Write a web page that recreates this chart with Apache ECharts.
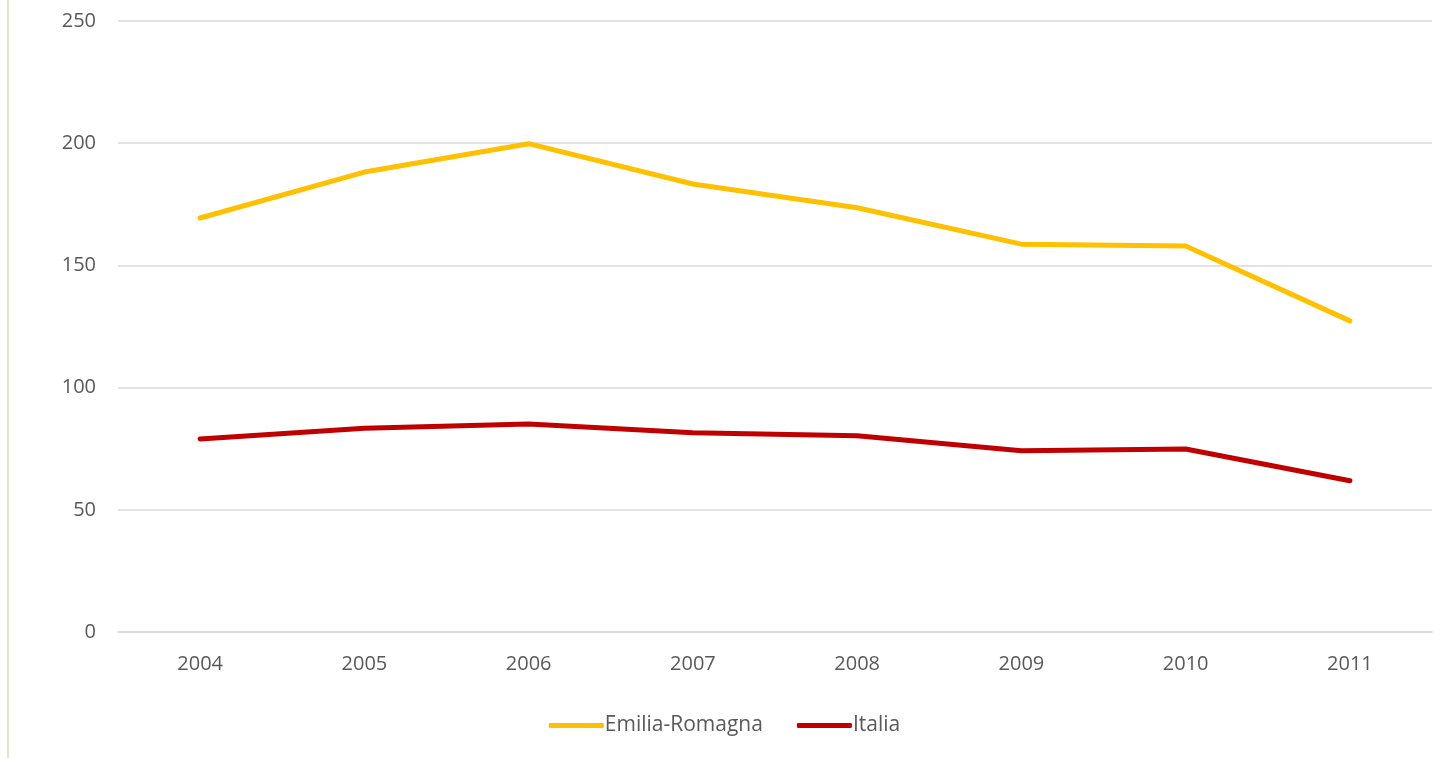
<!DOCTYPE html>
<html>
<head>
  <meta charset="utf-8" />
  <style>
    html, body { margin: 0; padding: 0; background: #fff; }
    #main { width: 1449px; height: 758px; }
    #edge { position: absolute; left: 7px; top: 0; width: 2px; height: 758px; background: #e3dfcb; }
  </style>
</head>
<body>
  <div id="edge"></div>
  <div id="main"></div>
  <script src="https://cdn.jsdelivr.net/npm/echarts@6/dist/echarts.min.js"></script>
  <script>
    // anni
    var years = ["2004", "2005", "2006", "2007", "2008", "2009", "2010", "2011"];
    var emiliaRomagna = [169.4, 188.2, 199.8, 183.3, 173.6, 158.7, 157.9, 127.3];
    var italia = [79.0, 83.4, 85.1, 81.5, 80.3, 74.2, 74.9, 61.9];

    var chart = echarts.init(document.getElementById("main"));
    var labelFont = { color: "#595959", fontSize: 20, fontFamily: "Open Sans" };

    chart.setOption({
      animation: false,
      grid: { left: 118, right: 17, top: 21, bottom: 126 },
      legend: {
        bottom: 17,
        left: "center",
        itemWidth: 55,
        itemHeight: 5,
        itemGap: 34,
        icon: "roundRect",
        textStyle: { color: "#595959", fontSize: 21, fontFamily: "Open Sans", padding: [0, 0, 0, -4] },
        data: ["Emilia-Romagna", "Italia"]
      },
      xAxis: {
        type: "category",
        data: years,
        boundaryGap: true,
        axisLine: { lineStyle: { color: "#d9d9d9", width: 1.5 } },
        axisTick: { show: false },
        axisLabel: Object.assign({ margin: 22 }, labelFont)
      },
      yAxis: {
        type: "value",
        min: 0,
        max: 250,
        interval: 50,
        axisLine: { show: false },
        axisTick: { show: false },
        splitLine: { lineStyle: { color: "#d9d9d9", width: 1.5 } },
        axisLabel: Object.assign({ margin: 22 }, labelFont)
      },
      series: [
        {
          name: "Emilia-Romagna",
          type: "line",
          data: emiliaRomagna,
          symbol: "none",
          lineStyle: { color: "#ffc000", width: 5, cap: "round", join: "round" },
          itemStyle: { color: "#ffc000" }
        },
        {
          name: "Italia",
          type: "line",
          data: italia,
          symbol: "none",
          lineStyle: { color: "#c00000", width: 5, cap: "round", join: "round" },
          itemStyle: { color: "#c00000" }
        }
      ]
    });
  </script>
</body>
</html>
